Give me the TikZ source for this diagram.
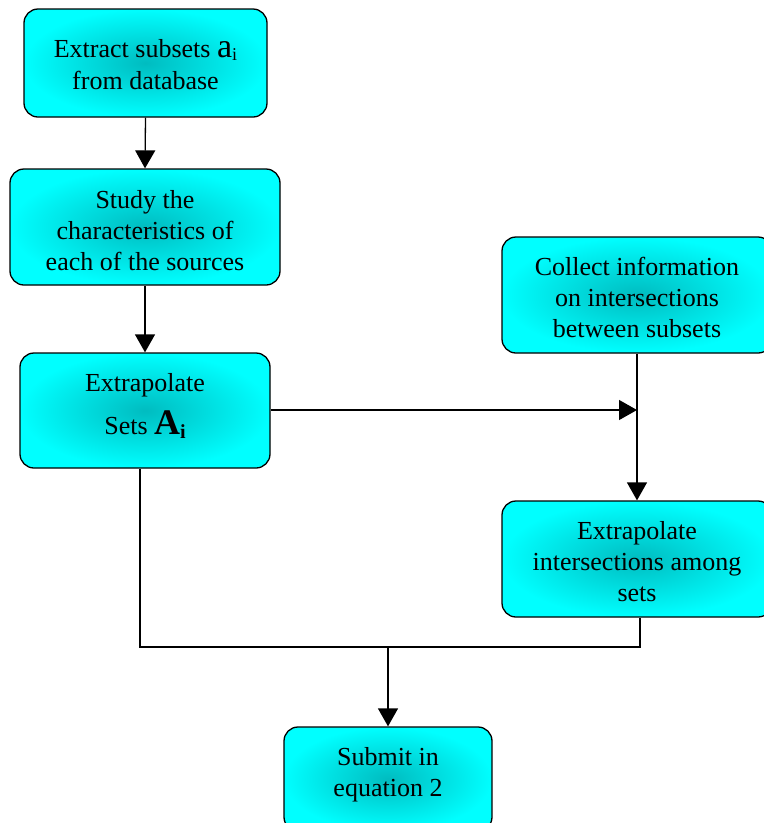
\documentclass[tikz,border=0pt]{standalone}
\usepackage{fontspec}
\setmainfont{Liberation Serif}
\usetikzlibrary{arrows.meta}
\definecolor{midc}{RGB}{0,188,192}
\newcommand{\tx}[2]{\raisebox{#1}[\height][\depth]{\begin{tabular}{@{}c@{}}#2\end{tabular}}}
\begin{document}
\begin{tikzpicture}[x=1pt,y=-1pt,
  box/.style={draw=black, line width=1.3pt, rounded corners=14pt, inner color=midc, outer color=cyan,
     minimum width=#1, align=center, font=\fontsize{26}{31}\selectfont, inner sep=0pt},
  arr/.style={line width=1.3pt, -{Triangle[length=18pt,width=20pt]}},
  ln/.style={line width=1.3pt}]
\useasboundingbox (0,0) rectangle (764,823);
\begin{scope}
\clip (0,0) rectangle (764,823);
\node[box=243pt, minimum height=108pt] (b1) at (145.5,63) {\tx{-4pt}{Extract subsets {\fontsize{34}{34}\selectfont a}{\fontsize{18}{18}\selectfont\raisebox{-3pt}{i}}\\[1pt]from database}};
\node[box=270pt, minimum height=116pt] (b2) at (145,227) {\tx{-6pt}{Study the\\characteristics of\\each of the sources}};
\node[box=250pt, minimum height=115pt] (b3) at (145,410.5) {\tx{3.5pt}{Extrapolate\\[10pt]Sets {\fontsize{36}{36}\selectfont\bfseries A}{\fontsize{20}{20}\selectfont\bfseries\raisebox{-4pt}{i}}}};
\node[box=270pt, minimum height=116pt] (b4) at (637,295) {\tx{-5pt}{Collect information\\on intersections\\between subsets}};
\node[box=270pt, minimum height=116pt] (b5) at (637,559) {\tx{-5pt}{Extrapolate\\intersections among\\sets}};
\node[box=208pt, minimum height=104pt] (b6) at (388,779) {\tx{4.5pt}{Submit in\\equation 2}};
\coordinate (j1) at (637,410);
\coordinate (j2) at (388,647);
\draw[arr] (b1.south) -- (b2.north);
\draw[arr] (b2.south) -- (b3.north);
\draw[arr] (b3.east |- j1) -- (j1);
\draw[arr] (b4.south) -- (b5.north);
\draw[ln] ([xshift=-5pt]b3.south) |- (j2);
\draw[ln] ([xshift=3pt]b5.south) |- (j2);
\draw[arr] (j2) -- (b6.north);
\end{scope}
\end{tikzpicture}
\end{document}
